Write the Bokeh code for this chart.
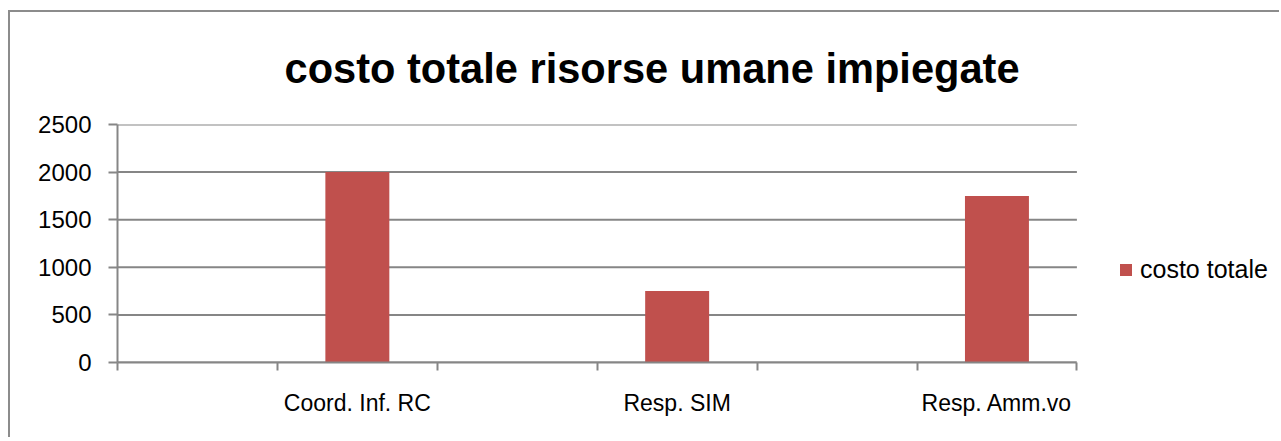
from bokeh.plotting import figure
from bokeh.models import FixedTicker, Legend, LegendItem, Range1d, ColumnDataSource
from bokeh.embed import file_html
from bokeh.resources import INLINE

categories = ["", "Coord. Inf. RC", "", "Resp. SIM", "", "Resp. Amm.vo"]
costo_totale = [float("nan"), 2000, float("nan"), 750, float("nan"), 1750]
y_ticks = [0, 500, 1000, 1500, 2000, 2500]
series_name = "costo totale"

FONT = "Liberation Sans"
GRAY = "#868686"

W, H = 1271, 427
LEFT, TOP, BOTTOM = 107, 112, 77
SLOT_PX = 159.9
n = len(categories)

xs = [i + 0.5 for i in range(n)]
src = ColumnDataSource(dict(x=xs, top=costo_totale))

p = figure(width=W, height=H, output_backend="svg", toolbar_location=None,
           x_range=Range1d(0, (W - LEFT) / SLOT_PX), y_range=Range1d(0, 2500),
           min_border_left=LEFT, min_border_right=0, min_border_bottom=BOTTOM,
           min_border_top=TOP)
p.outline_line_color = None
p.styles = {"margin-left": "8px", "margin-top": "10px",
            "border-top": "2px solid #8c8c8c", "border-left": "2px solid #8c8c8c"}

p.title.text = "costo totale risorse umane impiegate"
p.title.text_font = FONT
p.title.text_font_size = "41.6px"
p.title.text_font_style = "bold"
p.title.align = "left"
p.title.vertical_align = "top"
p.title.offset = 167
p.title.standoff = 62
p.title.text_color = "black"

# grid lines limited to the category slots
p.segment(x0=0, x1=n, y0=y_ticks, y1=y_ticks, line_color=GRAY, line_width=2)

r = p.vbar(x="x", top="top", width=0.4, bottom=0, source=src,
           fill_color="#c0504d", line_color=None)

# x axis
xa = p.xaxis[0]
xa.bounds = (0, n)
xa.ticker = FixedTicker(ticks=xs, minor_ticks=list(range(n + 1)))
xa.major_label_overrides = {x: c for x, c in zip(xs, categories)}
xa.major_tick_line_color = None
xa.minor_tick_line_color = GRAY
xa.minor_tick_out = 8
xa.minor_tick_in = 0
xa.axis_line_color = GRAY
xa.axis_line_width = 2
xa.minor_tick_line_width = 2
xa.major_label_text_font = FONT
xa.major_label_text_font_size = "23px"
xa.major_label_text_color = "black"
xa.major_label_standoff = 19

ya = p.yaxis[0]
ya.ticker = FixedTicker(ticks=y_ticks)
ya.minor_tick_line_color = None
ya.major_tick_line_color = GRAY
ya.major_tick_line_width = 2
ya.major_tick_out = 9
ya.major_tick_in = 0
ya.axis_line_color = GRAY
ya.axis_line_width = 2
ya.major_label_text_font = FONT
ya.major_label_text_font_size = "24px"
ya.major_label_text_color = "black"
ya.major_label_standoff = 17

p.xgrid.grid_line_color = None
p.ygrid.grid_line_color = None

legend = Legend(items=[LegendItem(label=series_name, renderers=[r])],
                location=(1001, 78), orientation="vertical",
                border_line_color=None, background_fill_alpha=0,
                label_text_font=FONT, label_text_font_size="25px",
                label_text_color="black",
                glyph_width=15, glyph_height=15, padding=0, margin=0,
                label_standoff=7)
p.add_layout(legend, "center")

open("out.html", "w").write(file_html(p, INLINE))
